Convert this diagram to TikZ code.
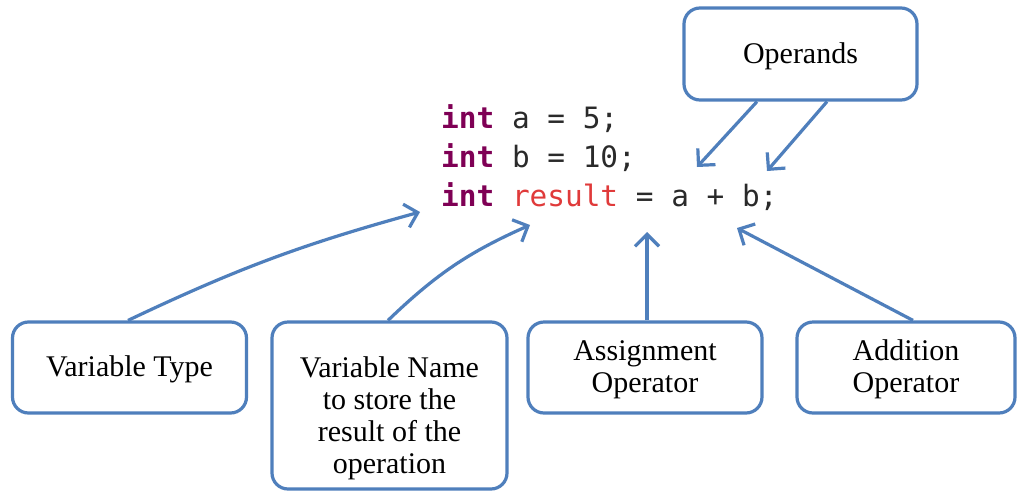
\documentclass[tikz,border=0pt]{standalone}
\usepackage{fontspec}
\setmainfont{Liberation Serif}
\newfontfamily\codefont{DejaVu Sans Mono}
\usetikzlibrary{arrows.meta}
\definecolor{lineblue}{HTML}{4F7FBC}
\definecolor{kwcolor}{HTML}{7F0055}
\definecolor{varred}{HTML}{E03A3A}
\definecolor{codegray}{HTML}{2A2A2A}
\tikzset{
  infobox/.style={draw=lineblue, line width=3.2pt, rounded corners=16pt, fill=white,
    align=center, font=\fontsize{30}{32}\selectfont, inner sep=0pt},
  boxtext/.style={align=center, font=\fontsize{30}{32}\selectfont, inner sep=0pt},
  codeline/.style={anchor=base west, inner sep=0pt, text=codegray,
    font=\codefont\fontsize{29.4}{40}\selectfont},
  pointer/.style={draw=lineblue, line width=3.2pt,
    -{Straight Barb[length=12pt, width=24pt, line width=3.2pt]}},
}
\newcommand{\kw}[1]{\textcolor{kwcolor}{\bfseries #1}}
\begin{document}
\begin{tikzpicture}[x=1pt, y=-1pt]
  \useasboundingbox[fill=white] (0,0) rectangle (1018,491);

  % the three statements
  \node[codeline] (l1) at (441,128) {\kw{int} a = 5;};
  \node[codeline] (l2) at (441,167) {\kw{int} b = 10;};
  \node[codeline] (l3) at (441,206) {\kw{int} \textcolor{varred}{result} = a + b;};

  % points on the code that the arrows reach
  \coordinate (tipA) at (697,167);
  \coordinate (tipB) at (767,171);
  \coordinate (tipType) at (420,212);
  \coordinate (tipName) at (530,225);
  \coordinate (tipAssign) at (647,232);
  \coordinate (tipAdd) at (737,228);

  % explanation boxes
  \node[infobox, minimum width=233pt, minimum height=92pt] (op) at (800.5,54) {};
  \node[boxtext] (opt) at (800.5,56) {Operands};
  \node[infobox, minimum width=234pt, minimum height=91pt] (vt) at (129.5,367.5) {};
  \node[boxtext] (vtt) at (129.5,369.5) {Variable Type};
  \node[infobox, minimum width=235pt, minimum height=167pt] (vn) at (389.5,405.5) {};
  \node[boxtext] (vnt) at (389.5,418) {Variable Name\\to store the\\result of the\\operation};
  \node[infobox, minimum width=234pt, minimum height=91pt] (as) at (645,367.5) {};
  \node[boxtext] (ast) at (645,369.5) {Assignment\\Operator};
  \node[infobox, minimum width=218pt, minimum height=91pt] (ad) at (906,367.5) {};
  \node[boxtext] (adt) at (906,369.5) {Addition\\Operator};

  % arrows
  \draw[pointer] ([xshift=-43.5pt]op.south) -- (tipA);
  \draw[pointer] ([xshift=26.5pt]op.south) -- (tipB);
  \draw[pointer] ([xshift=-1.5pt]vt.north) to[bend left=5] (tipType);
  \draw[pointer] ([xshift=-1.5pt]vn.north) to[bend left=10] (tipName);
  \draw[pointer] ([xshift=2pt]as.north) -- (tipAssign);
  \draw[pointer] ([xshift=7pt]ad.north) -- (tipAdd);
\end{tikzpicture}
\end{document}
